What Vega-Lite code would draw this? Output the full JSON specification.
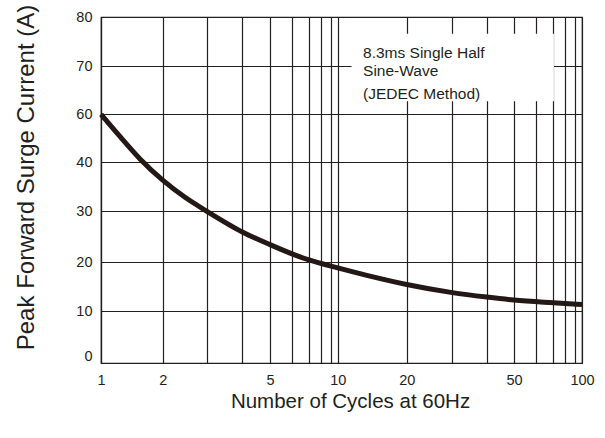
{
  "$schema": "https://vega.github.io/schema/vega-lite/v6.json",
  "autosize": {"type": "none"},
  "padding": {"left": 101, "top": 17, "right": 23, "bottom": 75},
  "width": 481,
  "height": 346,
  "background": "white",
  "config": {
    "view": {"stroke": "#231f20", "strokeWidth": 1.2},
    "font": "Liberation Sans"
  },
  "encoding": {
    "x": {
      "type": "quantitative",
      "scale": {
        "type": "log",
        "domain": [1, 2, 3, 4, 5, 6, 7, 8, 9, 10, 20, 30, 40, 50, 60, 70, 80, 90, 100],
        "range": [0, 61.7, 106.3, 141.3, 169, 191, 208, 220, 229.7, 236.7, 305.7, 351.3, 385.7, 413, 435, 452.3, 464, 474.3, 481],
        "nice": false
      }
    },
    "y": {
      "type": "quantitative",
      "scale": {
        "type": "linear",
        "domain": [0, 10, 20, 30, 40, 60, 70, 80],
        "range": [346, 294.4, 245, 194, 145, 97.3, 49, 0],
        "nice": false,
        "zero": false
      }
    }
  },
  "layer": [
    {
      "data": {"values": [
        {"cycles": 1, "current": 60},
        {"cycles": 1.24, "current": 50.6},
        {"cycles": 1.55, "current": 41.3},
        {"cycles": 2, "current": 36.3},
        {"cycles": 2.45, "current": 32.8},
        {"cycles": 3, "current": 29.9},
        {"cycles": 4, "current": 25.9},
        {"cycles": 5, "current": 23.4},
        {"cycles": 6, "current": 21.6},
        {"cycles": 7, "current": 20.4},
        {"cycles": 10, "current": 18.8},
        {"cycles": 13.4, "current": 17.3},
        {"cycles": 20, "current": 15.45},
        {"cycles": 30, "current": 13.8},
        {"cycles": 40, "current": 12.9},
        {"cycles": 50, "current": 12.3},
        {"cycles": 70, "current": 11.75},
        {"cycles": 100, "current": 11.4}
      ]},
      "mark": {"type": "line", "interpolate": "monotone", "stroke": "#231815", "strokeWidth": 5, "strokeCap": "butt"},
      "encoding": {
        "x": {
          "field": "cycles",
          "type": "quantitative",
          "axis": {
            "title": "Number of Cycles at 60Hz",
            "values": [1, 2, 3, 4, 5, 6, 7, 8, 9, 10, 20, 30, 40, 50, 60, 70, 80, 90, 100],
            "labelExpr": "indexof([1, 2, 5, 10, 20, 50, 100], datum.value) >= 0 ? '' + datum.value : ''",
            "grid": true,
            "gridColor": "#231f20",
            "gridOpacity": 1,
            "gridWidth": 1.2,
            "domainColor": "#231f20",
            "domainWidth": 1.2,
            "ticks": false,
            "tickSize": 0,
            "labelPadding": 10,
            "labelFontSize": 14.5,
            "labelColor": "#231f20",
            "labelFont": "Liberation Sans",
            "labelOverlap": false,
            "labelFlush": false,
            "titleFontSize": 20.5,
            "titleFontWeight": "normal",
            "titleColor": "#231f20",
            "titleFont": "Liberation Sans",
            "titleX": 249,
            "titleY": 44,
            "titleBaseline": "alphabetic",
            "titleAlign": "center"
          }
        },
        "y": {
          "field": "current",
          "type": "quantitative",
          "axis": {
            "title": "Peak Forward Surge Current (A)",
            "values": [0, 10, 20, 30, 40, 60, 70, 80],
            "grid": true,
            "gridColor": "#231f20",
            "gridOpacity": 1,
            "gridWidth": 1.2,
            "domainColor": "#231f20",
            "domainWidth": 1.2,
            "ticks": false,
            "tickSize": 0,
            "labelPadding": 9,
            "labelFontSize": 14.5,
            "labelColor": "#231f20",
            "labelFont": "Liberation Sans",
            "labelOverlap": false,
            "labelFlush": false,
            "labelOffset": {"condition": {"test": "datum.value == 0", "value": -7}, "value": 0},
            "titleFontSize": 24,
            "titleFontWeight": "normal",
            "titleColor": "#231f20",
            "titleFont": "Liberation Sans",
            "titleAngle": -90,
            "titleX": -68,
            "titleY": 160,
            "titleBaseline": "alphabetic",
            "titleAlign": "center"
          }
        }
      }
    },
    {
      "data": {"values": [{"x1": 11.5, "x2": 70.5, "y1": 76.6, "y2": 62.7}]},
      "mark": {"type": "rect", "fill": "white", "stroke": null},
      "encoding": {
        "x": {"field": "x1", "type": "quantitative"},
        "x2": {"field": "x2"},
        "y": {"field": "y1", "type": "quantitative"},
        "y2": {"field": "y2"}
      }
    },
    {
      "data": {"values": [
        {"x": 12.9, "y": 71.7, "text": "8.3ms Single Half"},
        {"x": 12.9, "y": 67.9, "text": "Sine-Wave"},
        {"x": 12.9, "y": 63.1, "text": "(JEDEC Method)"}
      ]},
      "mark": {"type": "text", "align": "left", "baseline": "alphabetic", "fontSize": 15.5, "font": "Liberation Sans", "color": "#231f20"},
      "encoding": {
        "x": {"field": "x", "type": "quantitative"},
        "y": {"field": "y", "type": "quantitative"},
        "text": {"field": "text"}
      }
    }
  ]
}
